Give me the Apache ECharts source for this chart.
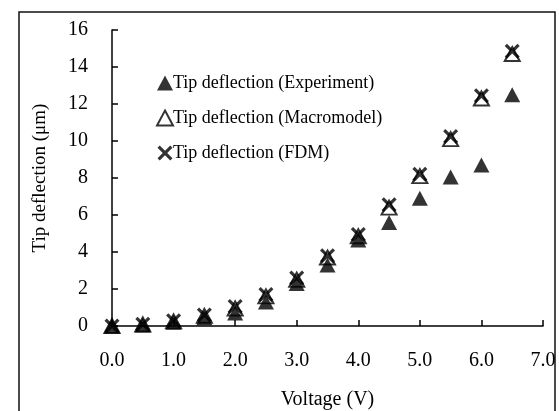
<!DOCTYPE html>
<html>
<head>
<meta charset="utf-8">
<script src="https://cdn.jsdelivr.net/npm/echarts@6/dist/echarts.min.js"></script>
<style>
  html, body { margin: 0; padding: 0; background: #fff; }
  #main { width: 559px; height: 411px; }
</style>
</head>
<body>
<div id="main"></div>
<script>
// voltage steps (V)
var voltage = [0, 0.5, 1.0, 1.5, 2.0, 2.5, 3.0, 3.5, 4.0, 4.5, 5.0, 5.5, 6.0, 6.5];
// tip deflection (um)
var experiment = [0, 0.05, 0.2, 0.45, 0.7, 1.3, 2.3, 3.3, 4.65, 5.6, 6.9, 8.05, 8.7, 12.5];
var macromodel = [0, 0.08, 0.25, 0.55, 0.95, 1.6, 2.5, 3.7, 4.85, 6.4, 8.1, 10.1, 12.3, 14.7];
var fdm = [0, 0.1, 0.28, 0.6, 1.05, 1.7, 2.6, 3.8, 4.95, 6.55, 8.2, 10.25, 12.45, 14.85];

var names = ['Tip deflection (Experiment)', 'Tip deflection (Macromodel)', 'Tip deflection (FDM)'];

function pairs(ys) {
  return voltage.map(function (v, i) { return [v, ys[i]]; });
}

var serif = '"Liberation Serif", "DejaVu Serif", serif';
var crossPath = 'path://M0,1.5 L1.5,0 L5,3.5 L8.5,0 L10,1.5 L6.5,5 L10,8.5 L8.5,10 L5,6.5 L1.5,10 L0,8.5 L3.5,5 Z';

var chartDom = document.getElementById('main');
var myChart = echarts.init(chartDom);

var option = {
  animation: false,
  backgroundColor: '#fff',
  textStyle: { fontFamily: serif, color: '#000' },
  graphic: [
    {
      type: 'rect',
      shape: { x: 19, y: 12, width: 536, height: 410 },
      style: { fill: 'none', stroke: '#111', lineWidth: 1.5 },
      z: -1
    }
  ],
  legend: {
    orient: 'vertical',
    left: 151,
    top: 69,
    itemGap: 17,
    itemWidth: 16,
    itemHeight: 15,
    textStyle: { fontFamily: serif, fontSize: 18, color: '#000', padding: [0, 0, 0, -5] },
    data: names
  },
  grid: { left: 112, right: 16, top: 30, bottom: 85, containLabel: false, outerBoundsMode: 'none' },
  xAxis: {
    type: 'value',
    min: 0,
    max: 7,
    interval: 1,
    name: 'Voltage (V)',
    nameLocation: 'middle',
    nameGap: 64,
    nameTextStyle: { fontFamily: serif, fontSize: 20, color: '#000' },
    axisLine: { lineStyle: { color: '#000', width: 1.5 } },
    axisTick: { inside: true, length: 6, lineStyle: { color: '#000', width: 1.5 } },
    axisLabel: {
      margin: 25,
      fontFamily: serif,
      fontSize: 20,
      color: '#000',
      formatter: function (v) { return v.toFixed(1); }
    },
    splitLine: { show: false }
  },
  yAxis: {
    type: 'value',
    min: 0,
    max: 16,
    interval: 2,
    name: 'Tip deflection (μm)',
    nameLocation: 'middle',
    nameGap: 62,
    nameTextStyle: { fontFamily: serif, fontSize: 19, color: '#000' },
    axisLine: { show: true, lineStyle: { color: '#000', width: 1.5 } },
    axisTick: { show: true, inside: true, length: 6, lineStyle: { color: '#000', width: 1.5 } },
    axisLabel: { margin: 24, fontFamily: serif, fontSize: 20, color: '#000' },
    splitLine: { show: false }
  },
  series: [
    {
      name: names[0],
      type: 'scatter',
      symbol: 'triangle',
      symbolSize: [16, 15],
      itemStyle: { color: '#000' },
      data: pairs(experiment),
      z: 2
    },
    {
      name: names[1],
      type: 'scatter',
      symbol: 'triangle',
      symbolSize: [15, 14],
      itemStyle: { color: 'rgba(255,255,255,0)', borderColor: '#000', borderWidth: 2 },
      data: pairs(macromodel),
      z: 3
    },
    {
      name: names[2],
      type: 'scatter',
      symbol: crossPath,
      symbolSize: 15,
      itemStyle: { color: '#000' },
      data: pairs(fdm),
      z: 4
    }
  ]
};

myChart.setOption(option);
</script>
</body>
</html>
